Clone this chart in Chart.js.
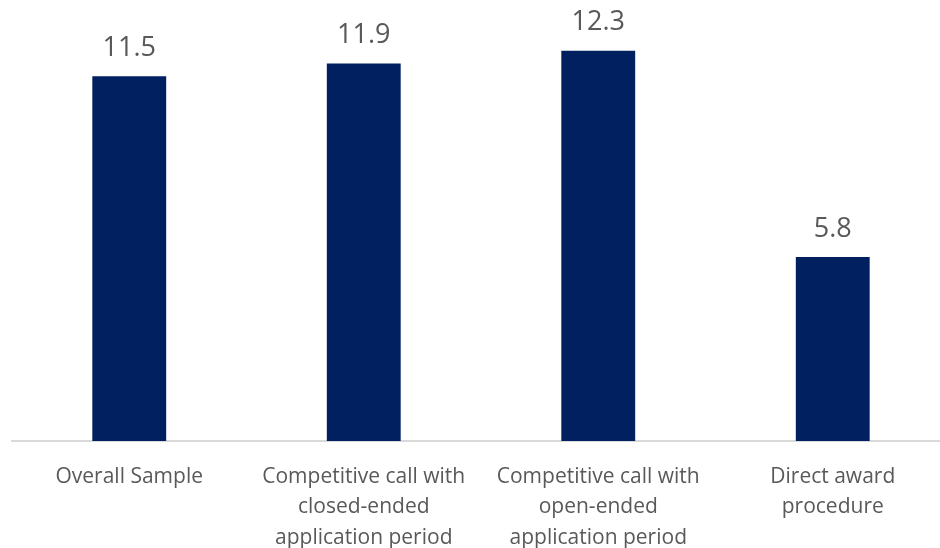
<!DOCTYPE html>
<html>
<head>
<meta charset="utf-8">
<script src="https://cdn.jsdelivr.net/npm/chart.js@4"></script>
<style>
  html, body { margin: 0; padding: 0; background: #fff; overflow: hidden; }
  #wrap { width: 950px; height: 548px; }
</style>
</head>
<body>
<div id="wrap"><canvas id="chart"></canvas></div>
<script>
// categories and values
const categories = [
    ['Overall Sample'],
    ['Competitive call with', 'closed-ended', 'application period'],
    ['Competitive call with', 'open-ended', 'application period'],
    ['Direct award', 'procedure']
];
const values = [11.5, 11.9, 12.3, 5.8];

// labels above bars
const valueLabels = {
    id: 'valueLabels',
    afterDatasetsDraw(chart) {
        const { ctx } = chart;
        const meta = chart.getDatasetMeta(0);
        ctx.save();
        ctx.font = '27px "Open Sans"';
        ctx.fillStyle = '#595959';
        ctx.textAlign = 'center';
        ctx.textBaseline = 'middle';
        meta.data.forEach((bar, i) => {
            ctx.fillText(values[i].toFixed(1), bar.x, bar.y - 28);
        });
        ctx.restore();
    }
};

const ctx = document.getElementById('chart').getContext('2d');
new Chart(ctx, {
    type: 'bar',
    data: {
        labels: categories,
        datasets: [{
            data: values,
            backgroundColor: '#002060',
            borderWidth: 0,
            categoryPercentage: 1,
            barPercentage: 0.315
        }]
    },
    options: {
        responsive: true,
        maintainAspectRatio: false,
        animation: false,
        layout: { padding: { left: 12, right: 0, top: 0, bottom: 0 } },
        plugins: {
            legend: { display: false },
            tooltip: { enabled: false }
        },
        scales: {
            x: {
                grid: { display: false },
                border: { display: true, color: '#d9d9d9', width: 2 },
                ticks: {
                    color: '#595959',
                    font: { family: 'Open Sans', size: 21, lineHeight: 1.44 },
                    padding: 13,
                    maxRotation: 0,
                    autoSkip: false
                },
                afterFit(scale) { scale.height = 107; }
            },
            y: {
                display: false,
                min: 0,
                max: 13.9
            }
        }
    },
    plugins: [valueLabels]
});
</script>
</body>
</html>
